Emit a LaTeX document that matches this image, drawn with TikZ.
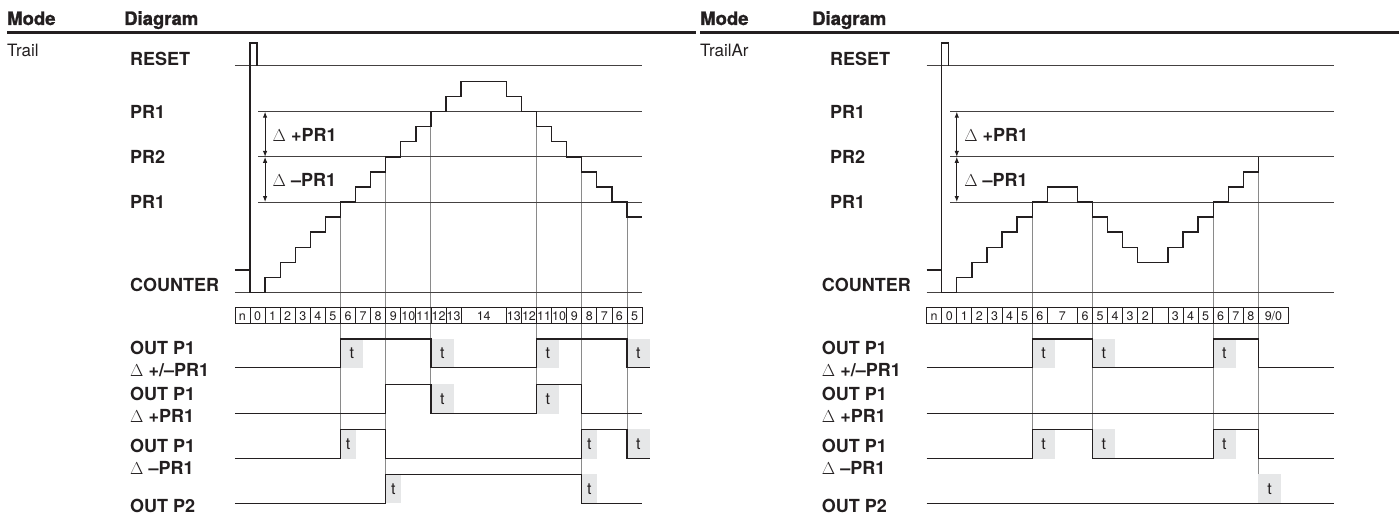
\documentclass[tikz,border=0pt]{standalone}
\usepackage{fontspec}
\setmainfont{TeX Gyre Heros}
\newfontfamily\hdrfont{texgyreheros-bold}[Extension=.otf,FakeBold=1.2]
\usetikzlibrary{arrows.meta}
\definecolor{ink}{HTML}{231F20}
\definecolor{guide}{HTML}{8A8A8A}
\definecolor{tfill}{HTML}{E6E7E8}
\newcommand\lv[1]{{292.3-15.05*#1}}
\newcommand\tbox[5]{%
  \fill[tfill] (#1,#3) rectangle ({#1+#2},#4);
  \node[tlab] (#5) at ({#1+#2/2},{(#3+#4)/2}) {t};}
\begin{document}
\begin{tikzpicture}[x=1pt,y=-1pt,
  lab/.style={font=\fontsize{18}{21}\selectfont\bfseries, anchor=base west, inner sep=0pt, text=ink},
  hdr/.style={font=\hdrfont\fontsize{18.5}{22}\selectfont, anchor=base west, inner sep=0pt, text=ink},
  modelab/.style={font=\fontsize{17}{20}\selectfont, anchor=base west, inner sep=0pt, text=ink},
  tlab/.style={font=\fontsize{16}{18}\selectfont, inner sep=0pt, text=ink},
  cnum/.style={font=\fontsize{12.5}{14}\selectfont, inner sep=0pt, text=ink, anchor=base},
  refline/.style={draw=ink!85, line width=1pt},
  sig/.style={draw=ink, line width=1.3pt, line join=miter},
  guideline/.style={draw=guide, line width=1pt},
  cell/.style={draw=ink, line width=0.8pt},
  dimarrow/.style={draw=ink, line width=0.9pt, {Latex[length=6pt,width=4.5pt]}-{Latex[length=6pt,width=4.5pt]}},
]
\useasboundingbox (0,0) rectangle (1399,524);

% ---------- header ----------
\fill[ink] (6.5,31) rectangle (696,34.5);
\fill[ink] (700,31) rectangle (1399,34.5);
\node[hdr] (hmodeL) at (7,25) {Mode};
\node[hdr] (hdiagL) at (124,25) {Diagram};
\node[hdr] (hmodeR) at (700,25) {Mode};
\node[hdr] (hdiagR) at (812,25) {Diagram};
\node[modelab] (modeL) at (7,56.7) {Trail};
\node[modelab] (modeR) at (700,56.7) {TrailAr};

% ---------- row labels ----------
\foreach \s/\xa/\xb in {L/130/130, R/830/821.7}{
  \node[lab] (reset\s) at (\xa,65.7) {RESET};
  \node[lab] (pra\s) at (\xa,119) {PR1};
  \node[lab] (prb\s) at (\xa,163.3) {PR2};
  \node[lab] (prc\s) at (\xa,208.5) {PR1};
  \node[lab] (cnt\s) at (\xb,291) {COUNTER};
  \node[lab] (oa\s) at (\xb,354.3) {OUT P1};
  \node[lab] (oad\s) at (\xb,376) {$\Delta$ +/\textendash PR1};
  \node[lab] (ob\s) at (\xb,400) {OUT P1};
  \node[lab] (obd\s) at (\xb,422.3) {$\Delta$ +PR1};
  \node[lab] (oc\s) at (\xb,452.7) {OUT P1};
  \node[lab] (ocd\s) at (\xb,474) {$\Delta$ \textendash PR1};
  \node[lab] (od\s) at (\xb,512.3) {OUT P2};
}

% ================= LEFT: Trail =================
\begin{scope}[xshift=250pt, x=15.08pt]
  \foreach \i/\a/\b in {6/6/458.7, 9/9/503.3, 12/12/413.7, 19/12/413.7, 22/9/503.3, 25/6/458.7}
    \draw[guideline] (\i,\lv{\a}) -- (\i,\b);
  \draw[refline] (-1,66) -- (26,66);
  \draw[refline] (0.55,\lv{12}) -- (26,\lv{12});
  \draw[refline] (0.55,\lv{9}) -- (26,\lv{9});
  \draw[refline] (0.55,\lv{6}) -- (26,\lv{6});
  \draw[refline] (-1,292.3) -- (26,292.3);
  \draw[dimarrow] (1,\lv{12}) -- (1,\lv{9});
  \draw[dimarrow] (1,\lv{9}) -- (1,\lv{6});
  \node[lab] (dpL) at (1.49,141) {$\Delta$ +PR1};
  \node[lab] (dmL) at (1.49,186.7) {$\Delta$ \textendash PR1};
  \draw[sig] (0,270) -- (0,43) -- (0.46,43) -- (0.46,66);
  \draw[sig] (-1,270) -| (0,\lv{0}) -| (1,\lv{1}) -| (2,\lv{2}) -| (3,\lv{3}) -| (4,\lv{4})
     -| (5,\lv{5}) -| (6,\lv{6}) -| (7,\lv{7}) -| (8,\lv{8}) -| (9,\lv{9}) -| (10,\lv{10})
     -| (11,\lv{11}) -| (12,\lv{12}) -| (13,\lv{13}) -| (14,\lv{14}) -| (17,\lv{13})
     -| (18,\lv{12}) -| (19,\lv{11}) -| (20,\lv{10}) -| (21,\lv{9}) -| (22,\lv{8})
     -| (23,\lv{7}) -| (24,\lv{6}) -| (25,\lv{5}) -- (26,\lv{5});
  \foreach \a/\b/\t [count=\k] in {-1/0/n,0/1/0,1/2/1,2/3/2,3/4/3,4/5/4,5/6/5,6/7/6,7/8/7,8/9/8,
      9/10/9,10/11/10,11/12/11,12/13/12,13/14/13,14/17/14,17/18/13,18/19/12,19/20/11,20/21/10,
      21/22/9,22/23/8,23/24/7,24/25/6,25/26/5}
    {\draw[cell] (\a,307.5) rectangle (\b,323);
     \node[cnum] (Lc\k) at ({(\a+\b)/2},320) {\t};}
  % outputs
  \tbox{6}{1.5}{339}{367.7}{Lt1}
  \tbox{12}{1.5}{339}{367.7}{Lt2}
  \tbox{19}{1.5}{339}{367.7}{Lt3}
  \tbox{25}{1.5}{339}{367.7}{Lt4}
  \tbox{12}{1.5}{384.3}{413.7}{Lt5}
  \tbox{19}{1.5}{384.3}{413.7}{Lt6}
  \tbox{6}{1}{429.3}{458.7}{Lt7}
  \tbox{22}{1}{429.3}{458.7}{Lt8}
  \tbox{25}{1.5}{429.3}{458.7}{Lt9}
  \tbox{9}{1}{474.3}{503.3}{Lt10}
  \tbox{22}{1}{474.3}{503.3}{Lt11}
  \draw[sig] (-1,367.7) -| (6,339) -| (12,367.7) -| (19,339) -| (25,367.7) -- (26.5,367.7);
  \draw[sig] (-1,413.7) -| (9,384.3) -| (12,413.7) -| (19,384.3) -| (22,413.7) -- (26,413.7);
  \draw[sig] (-1,458.7) -| (6,429.3) -| (9,458.7) -| (22,429.3) -| (25,458.7) -- (26.5,458.7);
  \draw[sig] (-1,503.3) -| (9,474.3) -| (22,503.3) -- (26,503.3);
\end{scope}

% ================= RIGHT: TrailAr =================
\begin{scope}[xshift=941.7pt, x=15.08pt]
  \foreach \i/\a/\b in {6/6/458.7, 10/6/458.7, 18/6/458.7, 21/9/503.3}
    \draw[guideline] (\i,\lv{\a}) -- (\i,\b);
  \draw[refline] (-1,66) -- (26,66);
  \draw[refline] (0.55,\lv{12}) -- (26,\lv{12});
  \draw[refline] (0.55,\lv{9}) -- (26,\lv{9});
  \draw[refline] (0.55,\lv{6}) -- (26,\lv{6});
  \draw[refline] (-1,292.3) -- (26,292.3);
  \draw[dimarrow] (1,\lv{12}) -- (1,\lv{9});
  \draw[dimarrow] (1,\lv{9}) -- (1,\lv{6});
  \node[lab] (dpR) at (1.49,141) {$\Delta$ +PR1};
  \node[lab] (dmR) at (1.49,186.7) {$\Delta$ \textendash PR1};
  \draw[sig] (0,270) -- (0,43) -- (0.46,43) -- (0.46,66);
  \draw[sig] (-1,270) -| (0,\lv{0}) -| (1,\lv{1}) -| (2,\lv{2}) -| (3,\lv{3}) -| (4,\lv{4})
     -| (5,\lv{5}) -| (6,\lv{6}) -| (7,\lv{7}) -| (9,\lv{6}) -| (10,\lv{5}) -| (11,\lv{4})
     -| (12,\lv{3}) -| (13,\lv{2}) -| (15,\lv{3}) -| (16,\lv{4}) -| (17,\lv{5})
     -| (18,\lv{6}) -| (19,\lv{7}) -| (20,\lv{8}) -| (21,\lv{9});
  \foreach \a/\b/\t [count=\k] in {-1/0/n,0/1/0,1/2/1,2/3/2,3/4/3,4/5/4,5/6/5,6/7/6,7/9/7,9/10/6,
      10/11/5,11/12/4,12/13/3,13/14/2,14/15/{},15/16/3,16/17/4,17/18/5,18/19/6,19/20/7,20/21/8,
      21/23/{9/0}}
    {\draw[cell] (\a,307.5) rectangle (\b,323);
     \node[cnum] (Rc\k) at ({(\a+\b)/2},320) {\t};}
  \tbox{6}{1.5}{339}{367.7}{Rt1}
  \tbox{10}{1.5}{339}{367.7}{Rt2}
  \tbox{18}{1.5}{339}{367.7}{Rt3}
  \tbox{6}{1.5}{429.3}{458.7}{Rt4}
  \tbox{10}{1.5}{429.3}{458.7}{Rt5}
  \tbox{18}{1.5}{429.3}{458.7}{Rt6}
  \tbox{21}{1.5}{474.3}{503.3}{Rt7}
  \draw[sig] (-1,367.7) -| (6,339) -| (10,367.7) -| (18,339) -| (21,367.7) -- (26,367.7);
  \draw[sig] (-1,413.7) -- (26,413.7);
  \draw[sig] (-1,458.7) -| (6,429.3) -| (10,458.7) -| (18,429.3) -| (21,458.7) -- (26,458.7);
  \draw[sig] (-1,503.3) -- (26,503.3);
\end{scope}
\end{tikzpicture}
\end{document}
